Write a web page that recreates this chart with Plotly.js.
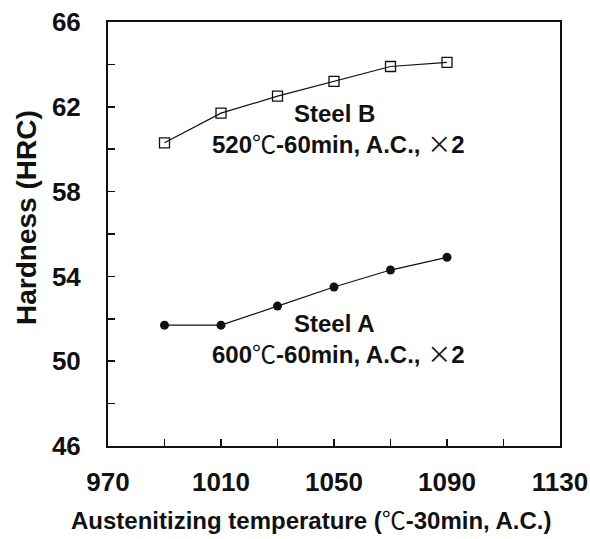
<!DOCTYPE html>
<html>
<head>
<meta charset="utf-8">
<script src="https://cdn.plot.ly/plotly-3.0.1.min.js"></script>
<style>html,body{margin:0;padding:0;background:#fff;}#chart{width:590px;height:539px;}</style>
</head>
<body>
<div id="chart"></div>
<script>
const temperature = [990, 1010, 1030, 1050, 1070, 1090];
const steelB = [60.3, 61.7, 62.5, 63.2, 63.9, 64.1];
const steelA = [51.7, 51.7, 52.6, 53.5, 54.3, 54.9];
const xTicks = [970, 1010, 1050, 1090, 1130];
const yTicks = [46, 50, 54, 58, 62, 66];
const DEG = '<span style="font-family:\'Noto Sans CJK JP\';font-weight:normal">℃</span>';
const TIMES = '<span style="font-family:\'Noto Sans CJK JP\';font-weight:normal">×</span>';
const xTitle = 'Austenitizing temperature (' + DEG + '-30min, A.C.)';
const yTitle = 'Hardness (HRC)';
const labelB = ['Steel B', '520' + DEG + '-60min, A.C., ' + TIMES + '2'];
const labelA = ['Steel A', '600' + DEG + '-60min, A.C., ' + TIMES + '2'];

const FONT = "'Liberation Sans', Arial, 'DejaVu Sans', sans-serif";

const traces = [
  {
    x: temperature, y: steelB, type: 'scatter', mode: 'lines+markers',
    name: 'Steel B',
    line: {color: '#111', width: 1.2},
    marker: {symbol: 'square-open', size: 10, color: '#111', line: {width: 1.3}}
  },
  {
    x: temperature, y: steelA, type: 'scatter', mode: 'lines+markers',
    name: 'Steel A',
    line: {color: '#111', width: 1.2},
    marker: {symbol: 'circle', size: 9, color: '#111'}
  }
];

const axisCommon = {
  showgrid: false, zeroline: false,
  showline: true, mirror: true, linecolor: '#111', linewidth: 2,
  ticks: 'inside', ticklen: 7, tickwidth: 1.5, tickcolor: '#111',
  tickfont: {family: FONT, size: 26, color: '#111', weight: 'bold'}
};

const annFont = {family: FONT, size: 24, color: '#111', weight: 'bold'};

const layout = {
  width: 590, height: 539,
  margin: {l: 108, r: 30, t: 22, b: 93},
  paper_bgcolor: '#fff', plot_bgcolor: '#fff',
  showlegend: false,
  xaxis: Object.assign({}, axisCommon, {
    range: [970, 1130], tickvals: xTicks, ticktext: xTicks.map(String),
    minor: {dtick: 20, tick0: 970, ticks: 'inside', ticklen: 7, tickwidth: 1.5, tickcolor: '#111'},
    ticklabelstandoff: 12
  }),
  yaxis: Object.assign({}, axisCommon, {
    range: [46, 66], tickvals: yTicks, ticktext: yTicks.map(String),
    minor: {dtick: 2, tick0: 46, ticks: 'inside', ticklen: 7, tickwidth: 1.5, tickcolor: '#111'},
    ticklabelstandoff: 20
  }),
  annotations: [
    {x: 0.451, y: -0.170, xref: 'paper', yref: 'paper', text: xTitle, showarrow: false,
      xanchor: 'center', yanchor: 'middle', font: annFont},
    {x: -0.179, y: 0.538, xref: 'paper', yref: 'paper', text: yTitle, showarrow: false,
      textangle: -90, xanchor: 'center', yanchor: 'middle',
      font: {family: FONT, size: 28, color: '#111', weight: 'bold'}},
    {x: 1050, y: 61.7, xref: 'x', yref: 'y', text: labelB[0], showarrow: false, font: annFont},
    {x: 1051.5, y: 60.3, xref: 'x', yref: 'y', text: labelB[1], showarrow: false, font: annFont},
    {x: 1050, y: 51.8, xref: 'x', yref: 'y', text: labelA[0], showarrow: false, font: annFont},
    {x: 1051.5, y: 50.4, xref: 'x', yref: 'y', text: labelA[1], showarrow: false, font: annFont}
  ]
};

Plotly.newPlot('chart', traces, layout, {displayModeBar: false, staticPlot: true});
</script>
</body>
</html>
